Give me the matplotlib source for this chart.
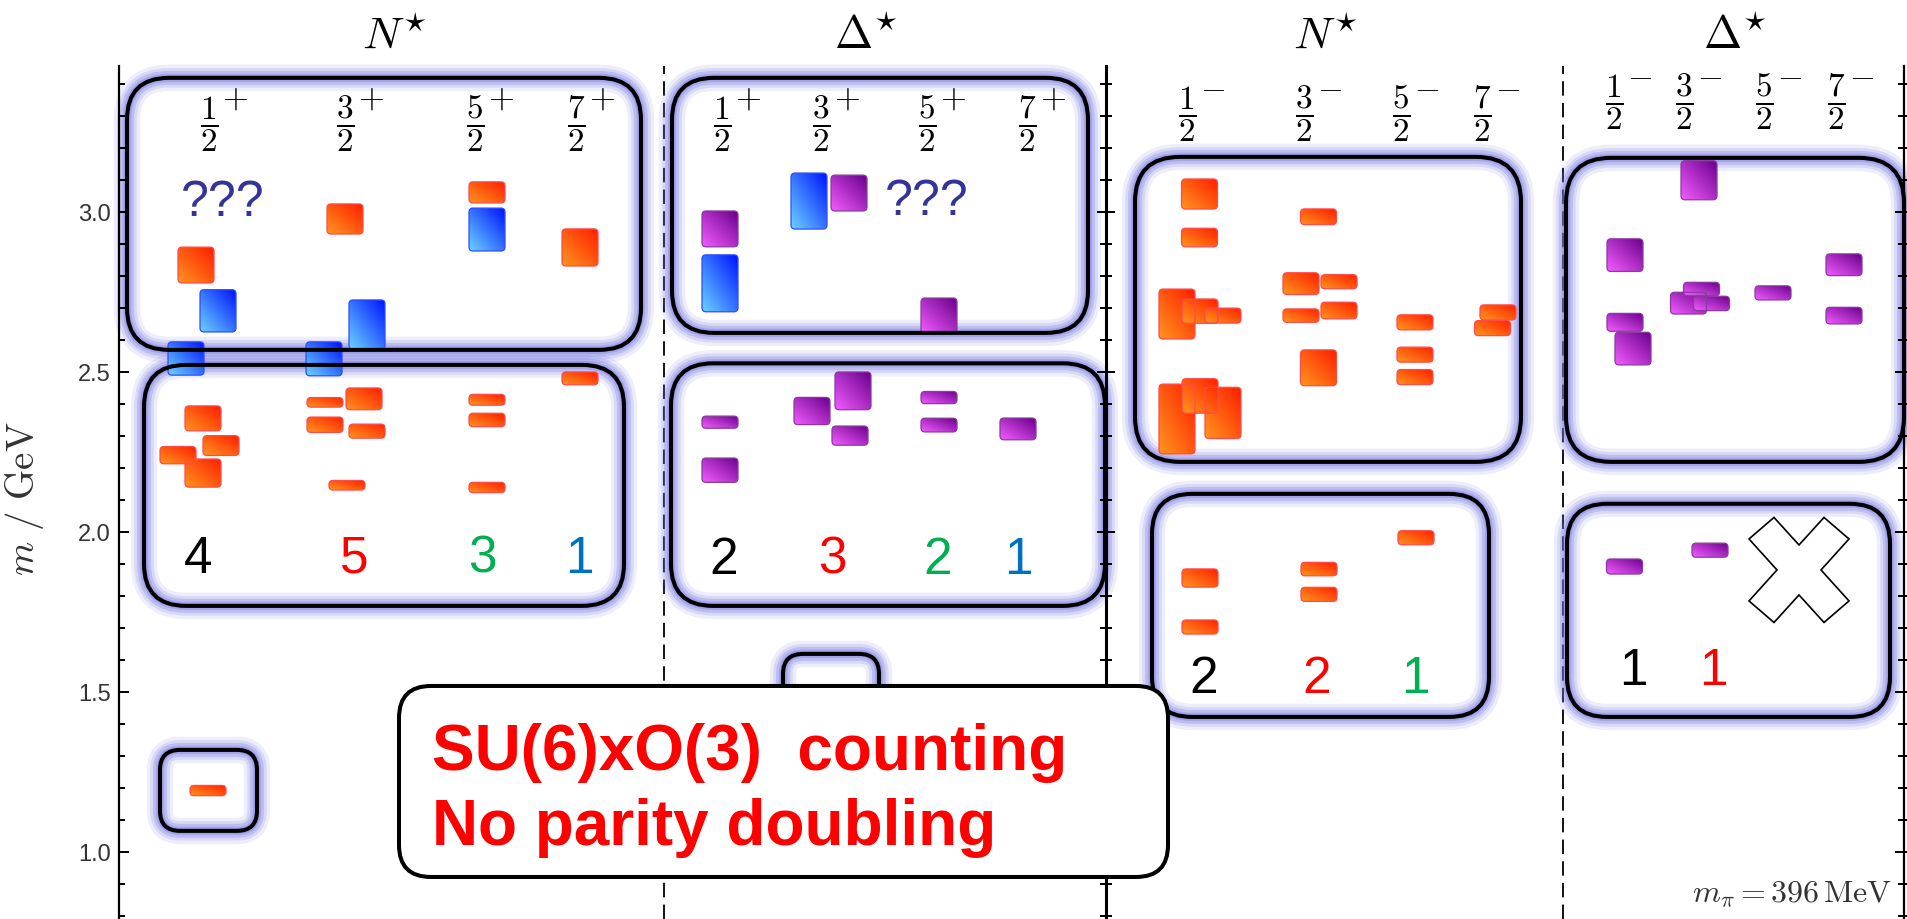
import numpy as np
import matplotlib
matplotlib.use('Agg')
import matplotlib.pyplot as plt
from matplotlib.patches import FancyBboxPatch, Polygon
from matplotlib.ticker import MultipleLocator, FormatStrFormatter

plt.rcParams['font.family'] = ['Liberation Sans', 'DejaVu Sans']
plt.rcParams['mathtext.fontset'] = 'cm'

# ---- spectrum data (masses and half-widths in GeV) ----
SPINS = [1, 3, 5, 7]          # 2J for the four spin columns

# N* positive parity: column, mass, error, kind (N = nucleon-like, H = hybrid)
np_col = [0, 0, 0, 1, 1, 1, 2, 2, 3, 0, 0, 0, 0, 1, 1, 1, 1, 1, 2, 2, 2, 3, 0]
np_mass = [2.834, 2.691, 2.542, 2.978, 2.648, 2.541, 3.061, 2.945, 2.889,
           2.355, 2.240, 2.270, 2.184, 2.405, 2.416, 2.335, 2.315, 2.146,
           2.413, 2.350, 2.139, 2.480, 1.192]
np_err = [0.056, 0.066, 0.052, 0.047, 0.077, 0.053, 0.033, 0.067, 0.058,
          0.039, 0.027, 0.031, 0.044, 0.015, 0.034, 0.024, 0.022, 0.015,
          0.017, 0.021, 0.016, 0.020, 0.016]
np_kind = ['N', 'H', 'H', 'N', 'H', 'H', 'N', 'H', 'N'] + ['N'] * 14
np_shift = [-13, 9, -23, 0, 22, -21, 12, 12, 4,
            -6, -31, 12, -6, -20, 19, -20, 22, 2, 12, 12, 12, 4, -1]

# Delta* positive parity
dp_col = [0, 0, 1, 1, 2, 0, 0, 1, 1, 1, 2, 2, 3, 1]
dp_mass = [2.947, 2.777, 3.034, 3.059, 2.675, 2.343, 2.193, 2.378, 2.441,
           2.301, 2.420, 2.334, 2.322, 1.500]
dp_err = [0.056, 0.089, 0.0875, 0.056, 0.056, 0.019, 0.038, 0.0425, 0.059,
          0.030, 0.019, 0.0215, 0.034, 0.016]
dp_kind = ['D', 'H', 'H', 'D'] + ['D'] * 10
dp_shift = [-2, -2, -12, 28, 12, -2, -2, -9, 32, 29, 12, 12, -9, 10]

# N* negative parity
nm_col = [0, 0, 0, 0, 0, 0, 0, 0, 1, 1, 1, 1, 1, 1, 2, 2, 2, 3, 3, 0, 0, 1, 1, 2]
nm_mass = [3.056, 2.920, 2.681, 2.690, 2.676, 2.353, 2.372, 2.425,
           2.985, 2.776, 2.782, 2.676, 2.692, 2.513, 2.655, 2.554, 2.484,
           2.686, 2.637, 1.856, 1.703, 1.884, 1.805, 1.982]
nm_err = [0.047, 0.029, 0.078, 0.038, 0.0235, 0.109, 0.080, 0.054,
          0.0245, 0.034, 0.022, 0.021, 0.026, 0.056, 0.0235, 0.0235, 0.0235,
          0.0235, 0.0235, 0.0285, 0.022, 0.021, 0.022, 0.022]
nm_kind = ['N'] * 24
nm_shift = [12.5, 12.5, -10, 13, 36, -10, 36, 13,
            14.5, -3, 35, -3, 35, 14.5, 14, 14, 14, 16, 10.5, 13, 13, 15, 15, 15]

# Delta* negative parity
dm_col = [0, 0, 0, 1, 1, 1, 1, 2, 3, 3, 0, 1]
dm_mass = [2.865, 2.655, 2.573, 3.099, 2.715, 2.759, 2.714, 2.747,
           2.835, 2.676, 1.892, 1.943]
dm_err = [0.051, 0.028, 0.051, 0.061, 0.034, 0.021, 0.0225, 0.022,
          0.034, 0.026, 0.0235, 0.022]
dm_kind = ['D'] * 12
dm_shift = [11, 11, 19, 15, 4.5, 17.5, 27.5, 9, 8, 8, 10.5, 26]

# SU(6)xO(3) expected state counts per spin column
np_counts = [4, 5, 3, 1]
dp_counts = [2, 3, 2, 1]
nm_counts = [2, 2, 1]
dm_counts = [1, 1]
COUNT_COLORS = ['black', '#ff0000', '#00b050', '#0070c0']

# ---- layout ----
PX_PER_GEV = 320.0
BAR_W = 36
Y_LO, Y_HI = 0.7906, 3.456

np_colx = [209, 345, 475, 576]
dp_colx = [722, 821, 927, 1027]
nm_colx = [1187, 1304, 1401, 1482]
dm_colx = [1614, 1684, 1764, 1836]

BAR_STYLE = {
    'N': ((1.0, 0.58, 0.12), (1.0, 0.12, 0.0), '#ff4a4a'),
    'H': ((0.42, 0.82, 1.0), (0.0, 0.08, 1.0), '#2d4dff'),
    'D': ((0.95, 0.36, 1.0), (0.42, 0.0, 0.55), '#8a3aa0'),
}


def gradient(light, dark, n=32):
    u = np.linspace(0, 1, n)
    U, V = np.meshgrid(u, u)
    t = ((U + V) / 2)[..., None]
    return np.array(light)[None, None, :] * (1 - t) + np.array(dark)[None, None, :] * t


GRADIENTS = {k: gradient(v[0], v[1]) for k, v in BAR_STYLE.items()}


def rounded(x0, x1, lo, hi, r, **kw):
    return FancyBboxPatch((x0, lo), x1 - x0, hi - lo,
                          boxstyle='round,pad=0,rounding_size=%g' % r,
                          mutation_aspect=1 / PX_PER_GEV, **kw)


def add_bar(ax, x, mass, err, kind):
    edge = BAR_STYLE[kind][2]
    x0, y0 = x - BAR_W / 2, mass - err
    frame = rounded(x0, x0 + BAR_W, y0, mass + err, 4, fc='none', ec=edge,
                    lw=0.9, zorder=3.2)
    ax.add_patch(frame)
    im = ax.imshow(GRADIENTS[kind], extent=(x0, x0 + BAR_W, y0, mass + err),
                   origin='lower', aspect='auto', interpolation='bilinear',
                   zorder=3.1)
    im.set_clip_path(frame)


def add_group_box(ax, x0, x1, lo, hi, r):
    # soft lavender halo, then the black outline
    for lw, a in [(19, 0.12), (14, 0.18), (10, 0.26), (6, 0.32), (3.5, 0.3)]:
        ax.add_patch(rounded(x0, x1, lo, hi, r, fc='none',
                             ec=(0.45, 0.45, 0.88, a), lw=lw, zorder=1,
                             clip_on=False))
    ax.add_patch(rounded(x0, x1, lo, hi, r, fc='none', ec='black', lw=2.9,
                         zorder=3.5, clip_on=False))


def draw_panel(ax, colx, cols, masses, errs, kinds, shifts):
    for c, m, e, k, s in zip(cols, masses, errs, kinds, shifts):
        add_bar(ax, colx[c] + s, m, e, k)


def spin_labels(ax, colx, y, sign):
    for j, x in zip(SPINS, colx):
        ax.text(x, y, r'$\dfrac{%d}{2}$' % j, fontsize=24, ha='center',
                va='center')
        ax.text(x + 26, y + 25 / PX_PER_GEV, sign, fontsize=24, ha='center',
                va='center')


def counts(ax, xs, values, y):
    for x, v, c in zip(xs, values, COUNT_COLORS):
        ax.text(x, y, str(v), fontsize=37, color=c, ha='center',
                va='baseline')


def gev(px):
    # pixel row in the 920 px tall figure -> mass on the common axis
    return 3.0 - (px - 213) / PX_PER_GEV


fig = plt.figure(figsize=(19.07, 9.2), dpi=100)
top = (920 - 67) / 920
ax1 = fig.add_axes([119 / 1907, 0, (1106 - 119) / 1907, top])
ax2 = fig.add_axes([1106 / 1907, 0, (1904 - 1106) / 1907, top])

for ax in (ax1, ax2):
    ax.patch.set_visible(False)
    ax.set_xticks([])
    ax.yaxis.set_major_locator(MultipleLocator(0.5))
    ax.yaxis.set_minor_locator(MultipleLocator(0.1))
    for side in ('top', 'bottom'):
        ax.spines[side].set_visible(False)

ax1.spines['right'].set_visible(False)
ax1.spines['left'].set_linewidth(1.6)
ax1.yaxis.set_major_formatter(FormatStrFormatter('%.1f'))
ax1.tick_params(axis='y', which='both', left=True, right=False,
                direction='in', width=1.4, labelsize=17, labelcolor='#333333',
                pad=6)
ax1.tick_params(axis='y', which='major', length=7.5)
ax1.tick_params(axis='y', which='minor', length=4.5)
ax1.set_ylabel(r'$m\ /\ \mathrm{GeV}$', fontsize=28, color='#333333')
ax1.yaxis.set_label_coords(-0.074, 0.4936)

ax2.spines['left'].set_linewidth(2.2)
ax2.spines['right'].set_linewidth(1.6)
ax2.tick_params(axis='y', which='both', left=True, right=True,
                direction='inout', width=1.4, labelleft=False)
ax2.tick_params(axis='y', which='major', length=13)
ax2.tick_params(axis='y', which='minor', length=9)

ax1.axvline(664, color='black', lw=1.3, ls=(0, (8, 4)), zorder=0.8)
ax2.axvline(1563, color='black', lw=1.3, ls=(0, (8, 4)), zorder=0.8)

# grouping boxes: x range in px, mass range, corner radius
for box in [(127, 641, 2.569, 3.419, 42), (144, 624, 1.769, 2.522, 42),
            (160, 257, 1.066, 1.319, 20), (672, 1088, 2.622, 3.419, 42),
            (671, 1105, 1.769, 2.527, 42), (783, 879, 1.366, 1.619, 20)]:
    add_group_box(ax1, *box)
for box in [(1135, 1521, 2.219, 3.172, 45), (1152, 1489, 1.422, 2.119, 40),
            (1566, 1904, 2.219, 3.169, 45), (1567, 1890, 1.422, 2.088, 40)]:
    add_group_box(ax2, *box)

draw_panel(ax1, np_colx, np_col, np_mass, np_err, np_kind, np_shift)
draw_panel(ax1, dp_colx, dp_col, dp_mass, dp_err, dp_kind, dp_shift)
draw_panel(ax2, nm_colx, nm_col, nm_mass, nm_err, nm_kind, nm_shift)
draw_panel(ax2, dm_colx, dm_col, dm_mass, dm_err, dm_kind, dm_shift)

spin_labels(ax1, np_colx, gev(124), r'$+$')
spin_labels(ax1, dp_colx, gev(124), r'$+$')
spin_labels(ax2, nm_colx, gev(114), r'$-$')
spin_labels(ax2, dm_colx, gev(102), r'$-$')

for ax, x, s in [(ax1, 395, r'$N^{\star}$'), (ax1, 866, r'$\Delta^{\star}$'),
                 (ax2, 1326, r'$N^{\star}$'), (ax2, 1735, r'$\Delta^{\star}$')]:
    ax.text(x, gev(37), s, fontsize=33, ha='center', va='center')

for x, y in [(223, 203), (927, 202)]:
    ax1.text(x, gev(y), '???', fontsize=36, color='#333399', ha='center',
             va='center')

counts(ax1, [198, 354, 482, 579], np_counts, gev(573))
counts(ax1, [724, 832, 938, 1018], dp_counts, gev(574))
counts(ax2, [1204, 1317, 1415], nm_counts, gev(693))
counts(ax2, [1633, 1713], dm_counts, gev(685))

# crossed-out 7/2 slot for the negative-parity Delta
x_off = [(-50, -31), (-25, -52.5), (0, -25), (25, -52.5), (50, -31), (22, 0),
         (50, 31), (25, 52.5), (0, 25), (-25, 52.5), (-50, 31), (-22, 0)]
cx, cy = 1799, gev(571)
ax2.add_patch(Polygon([(cx + dx, cy - dy / PX_PER_GEV) for dx, dy in x_off],
                      closed=True, fc='white', ec='black', lw=1.2, zorder=4))

ax2.text(1892, gev(903), r'$m_\pi = 396\,\mathrm{MeV}$', fontsize=23,
         color='#333333', ha='right', va='baseline')

for ax, xl in [(ax1, (119, 1106)), (ax2, (1106, 1904))]:
    ax.set_xlim(*xl)
    ax.set_ylim(Y_LO, Y_HI)

# annotation box laid over both panels
note = rounded(399, 1168, gev(878), gev(687), 32, fc='white', ec='black',
               lw=2.9, transform=ax1.transData, zorder=10)
fig.add_artist(note)
fig.text(432, gev(770), 'SU(6)xO(3)  counting', transform=ax1.transData,
         fontsize=46, fontweight='bold', color='#ff0000', zorder=11)
fig.text(432, gev(845), 'No parity doubling', transform=ax1.transData,
         fontsize=46, fontweight='bold', color='#ff0000', zorder=11)

fig.savefig('out.png', dpi=100)
